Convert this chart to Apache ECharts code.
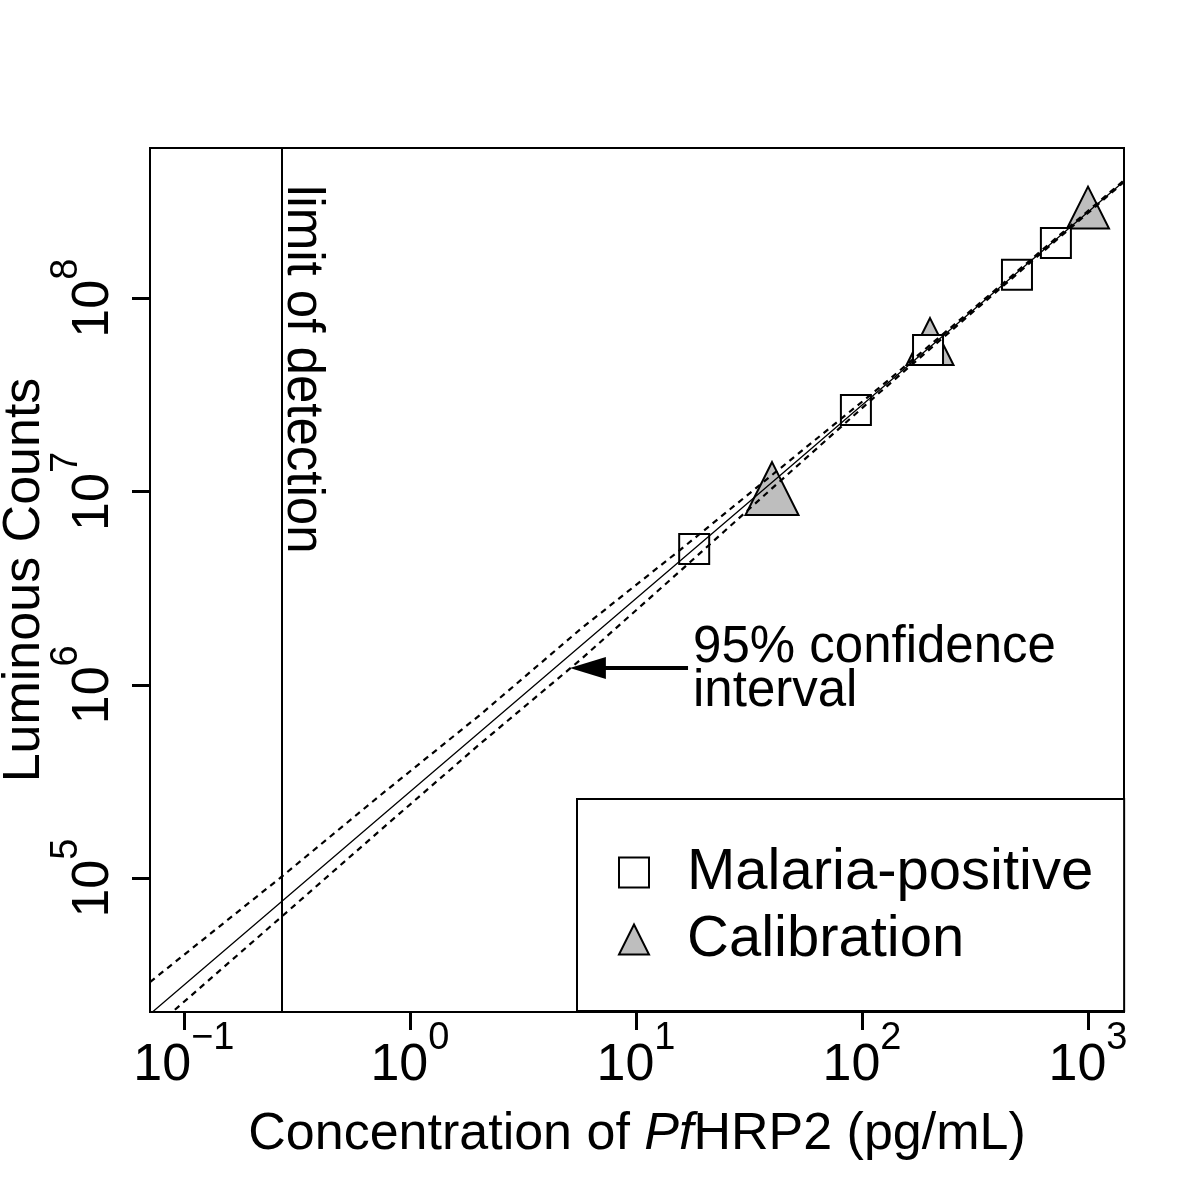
<!DOCTYPE html>
<html><head><meta charset="utf-8">
<script src="https://cdn.jsdelivr.net/npm/echarts@6/dist/echarts.min.js"></script>
<style>html,body{margin:0;padding:0;background:#fff}#c{width:1200px;height:1200px}</style>
</head><body><div id="c"></div>
<script>
// ---- data ----
const xTicks = [0.1, 1, 10, 100, 1000];
const yTicks = [1e5, 1e6, 1e7, 1e8];
const xRange = [0.0708, 1443];
const yRange = [2.03e4, 5.98e8];
const fitX    = [0.0708, 0.266, 0.736, 2.04, 5.65, 15.7, 43.4, 120, 333, 1443];
const fitY    = [1.98e4, 7.43e4, 2.06e5, 5.70e5, 1.58e6, 4.38e6, 1.21e7, 3.36e7, 9.29e7, 4.03e8];
const ciUpper = [2.90e4, 1.00e5, 2.67e5, 6.98e5, 1.93e6, 4.99e6, 1.315e7, 3.46e7, 9.45e7, 4.07e8];
const ciLower = [1.61e4, 6.21e4, 1.76e5, 4.94e5, 1.34e6, 3.88e6, 1.13e7, 3.26e7, 9.13e7, 3.99e8];
const malariaX = [18.1, 94.0, 196, 485, 721];
const malariaY = [5.04e6, 2.64e7, 5.40e7, 1.32e8, 1.93e8];
const calX = [40, 200, 1000];
const calY = [1.035e7, 5.96e7, 2.94e8];
const lodX = 0.266;
const arrowTip = [5.1, 1.22e6];
const arrowTailX = 17.0;
const legendNames = ['Malaria-positive', 'Calibration'];
const annotText = '95% confidence\ninterval';
const lodText = 'limit of detection';

// ---- styles ----
const calSymbolSize = [53, 47, 42];
const FONT = '"Liberation Sans", Arial, Helvetica, sans-serif';

const zip = (a, b) => a.map((v, i) => [v, b[i]]);
function supLabel(v) {
  const e = Math.round(Math.log10(v));
  return '{s|\u200b}{b|10}{e|' + (e < 0 ? '\u2212' + (-e) : String(e)) + '}';
}
const supRich = {
  s: { fontSize: 10, fontFamily: FONT, lineHeight: 72, verticalAlign: 'middle' },
  b: { fontSize: 52, fontFamily: FONT, color: '#000', verticalAlign: 'bottom', lineHeight: 52 },
  e: { fontSize: 38, fontFamily: FONT, color: '#000', verticalAlign: 'top', lineHeight: 38 }
};

const chart = echarts.init(document.getElementById('c'), null, { renderer: 'canvas' });

const option = {
  animation: false,
  backgroundColor: '#fff',
  tooltip: { show: false },
  grid: { left: 150, right: 76, top: 148, bottom: 188, show: true, borderColor: '#000', borderWidth: 2, backgroundColor: 'transparent', outerBoundsMode: 'none' },
  xAxis: {
    type: 'log', logBase: 10, min: xRange[0], max: xRange[1],
    name: 'Concentration of {i|Pf}HRP2 (pg/mL)', nameLocation: 'middle', nameGap: 97, nameMoveOverlap: false,
    nameTextStyle: { fontSize: 52, fontFamily: FONT, color: '#000',
      rich: { i: { fontSize: 52, fontFamily: FONT, fontStyle: 'italic', color: '#000' } } },
    axisLine: { show: true, lineStyle: { color: '#000', width: 2 } },
    axisTick: { show: true, inside: false, length: 18, lineStyle: { color: '#000', width: 3 }, customValues: xTicks },
    axisLabel: { show: true, margin: 8, customValues: xTicks, formatter: supLabel, rich: supRich },
    splitLine: { show: false }, minorTick: { show: false }
  },
  yAxis: {
    type: 'log', logBase: 10, min: yRange[0], max: yRange[1],
    name: 'Luminous Counts', nameLocation: 'middle', nameGap: 99, nameRotate: 90, nameMoveOverlap: false,
    nameTextStyle: { fontSize: 52, fontFamily: FONT, color: '#000' },
    axisLine: { show: true, lineStyle: { color: '#000', width: 2 } },
    axisTick: { show: true, inside: false, length: 18, lineStyle: { color: '#000', width: 3 }, customValues: yTicks },
    axisLabel: { show: true, rotate: 90, margin: 30, customValues: yTicks, formatter: supLabel, rich: supRich },
    splitLine: { show: false }, minorTick: { show: false }
  },
  legend: {
    orient: 'vertical', left: 577, top: 799,
    data: [{ name: legendNames[0], icon: 'rect' }, { name: legendNames[1], icon: 'triangle' }],
    itemWidth: 30, itemHeight: 30, itemGap: 0,
    padding: [40, 31, 38, 41],
    borderColor: '#000', borderWidth: 2, borderRadius: 0, backgroundColor: '#fff',
    selectedMode: false,
    textStyle: { fontFamily: FONT, fontSize: 58, color: '#000', lineHeight: 67, padding: [0, 0, 0, 33] }
  },
  series: [
    {
      name: legendNames[1], type: 'scatter', z: 2,
      data: zip(calX, calY), symbol: 'triangle',
      symbolSize: (val, p) => calSymbolSize[p.dataIndex],
      itemStyle: { color: '#bebebe', borderColor: '#000', borderWidth: 2, opacity: 1 },
      emphasis: { disabled: true }, silent: true
    },
    {
      name: legendNames[0], type: 'scatter', z: 3,
      data: zip(malariaX, malariaY), symbol: 'rect', symbolSize: 30,
      itemStyle: { color: '#fff', borderColor: '#000', borderWidth: 2, opacity: 1 },
      emphasis: { disabled: true }, silent: true
    },
    {
      name: 'fit', type: 'line', z: 4, data: zip(fitX, fitY), showSymbol: false, symbol: 'none',
      lineStyle: { color: '#000', width: 1.3 }, silent: true, clip: true,
      markLine: {
        silent: true, symbol: ['none', 'none'], label: { show: false },
        lineStyle: { color: '#000', width: 2, type: 'solid' },
        data: [{ xAxis: lodX }]
      }
    },
    {
      name: 'ci-upper', type: 'line', z: 4, data: zip(fitX, ciUpper), showSymbol: false, symbol: 'none',
      lineStyle: { color: '#000', width: 2.2, type: [6, 5] }, silent: true, clip: true
    },
    {
      name: 'ci-lower', type: 'line', z: 4, data: zip(fitX, ciLower), showSymbol: false, symbol: 'none',
      lineStyle: { color: '#000', width: 2.2, type: [6, 5] }, silent: true, clip: true
    }
  ]
};
chart.setOption(option);

// annotations anchored to data coordinates
const lodTop = chart.convertToPixel({ gridIndex: 0 }, [lodX, yRange[1]]);
const tip = chart.convertToPixel({ gridIndex: 0 }, arrowTip);
const tail = chart.convertToPixel({ gridIndex: 0 }, [arrowTailX, arrowTip[1]]);
chart.setOption({
  graphic: [
    {
      type: 'text', x: lodTop[0] + 22, y: lodTop[1] + 37, rotation: -Math.PI / 2, z: 10,
      style: { text: lodText, fontSize: 51, fontFamily: FONT, fill: '#000', align: 'left', verticalAlign: 'middle' }
    },
    {
      type: 'line', z: 10,
      shape: { x1: tip[0] + 30, y1: tip[1], x2: tail[0], y2: tail[1] },
      style: { stroke: '#000', lineWidth: 4 }
    },
    {
      type: 'polygon', z: 10,
      shape: { points: [[tip[0], tip[1]], [tip[0] + 36, tip[1] - 11], [tip[0] + 36, tip[1] + 11]] },
      style: { fill: '#000' }
    },
    {
      type: 'text', x: tail[0] + 5, y: tail[1] + 2, z: 10,
      style: { text: annotText, fontSize: 51, fontFamily: FONT, fill: '#000', align: 'left', verticalAlign: 'middle', lineHeight: 44 }
    }
  ]
});
</script></body></html>
